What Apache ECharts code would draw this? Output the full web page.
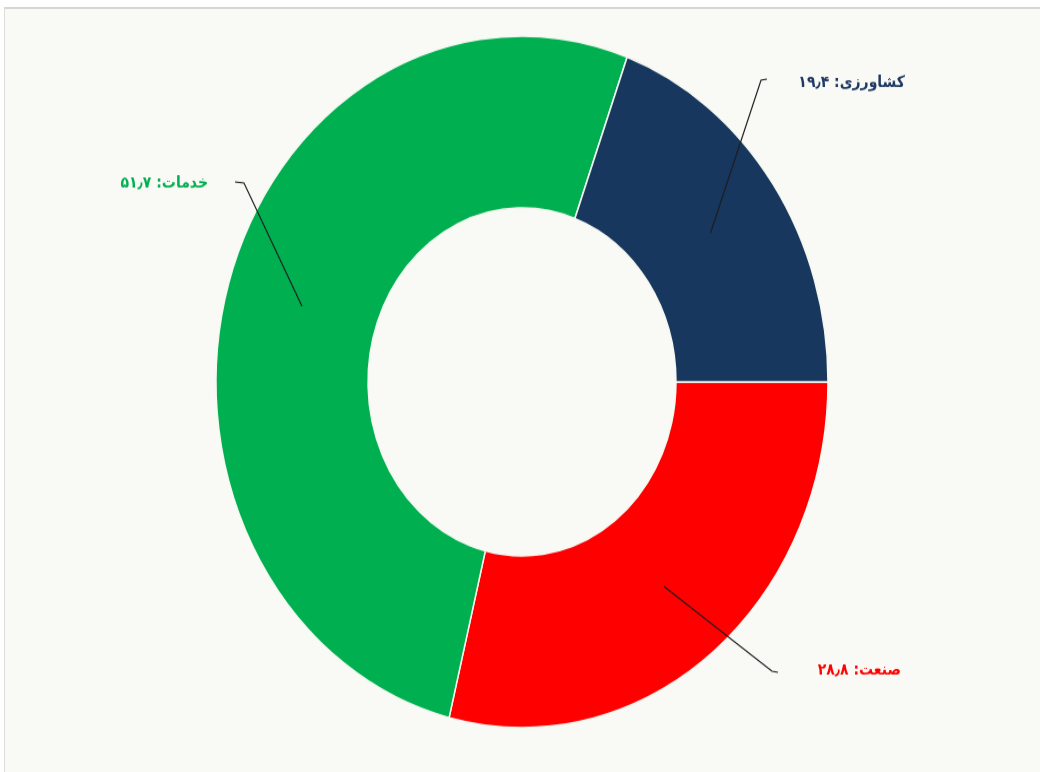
<!DOCTYPE html>
<html>
<head>
<meta charset="utf-8">
<script src="https://cdn.jsdelivr.net/npm/echarts@6/dist/echarts.min.js"></script>
<style>
  html, body { margin: 0; padding: 0; background: #ffffff; width: 1040px; height: 772px; overflow: hidden; }
  #frame { position: absolute; left: 4px; top: 7px; width: 1036px; height: 765px; background: #f9faf5;
           border-top: 2px solid #d6d6d6; border-left: 1px solid #dedede; overflow: hidden; box-sizing: border-box; }
  #chart { position: absolute; left: 0; top: 0; width: 1036px; height: 676px; transform: scaleY(1.13); transform-origin: 0 0; }
</style>
</head>
<body>
<div id="frame"><div id="chart"></div></div>
<script>
// Data
const categories = ['صنعت', 'خدمات', 'کشاورزی'];
const values = [28.8, 51.7, 19.4];

// Styles / layout
const colors = ['#ff0000', '#00b050', '#17375e'];
const labelColors = ['#ff0000', '#00b050', '#1f3864'];
const center = [517, 330];
const radius = [154, 306];
const midR = (radius[0] + radius[1]) / 2;
// label anchor (right edge x, middle y) and label line bend/end points
const labelAnchors = [
  { x: 896, y: 585, bend: [767, 586], end: [773, 587] },
  { x: 203, y: 154, bend: [239, 154], end: [230, 153] },
  { x: 900, y: 65, bend: [756, 63], end: [762, 62] }
];

const faDigits = '۰۱۲۳۴۵۶۷۸۹';
function toFa(n) {
  return String(n).replace('.', '٫').replace(/\d/g, d => faDigits[+d]);
}

const chart = echarts.init(document.getElementById('chart'), null, { renderer: 'canvas' });

chart.setOption({
  backgroundColor: 'transparent',
  animation: false,
  series: [{
    type: 'pie',
    z: 2,
    center: center,
    radius: radius,
    startAngle: 0,
    clockwise: true,
    silent: true,
    itemStyle: { borderColor: '#f4f8f0', borderWidth: 1.5 },
    label: { show: false },
    labelLine: { show: false },
    data: categories.map((c, i) => ({
      name: c,
      value: values[i],
      itemStyle: { color: colors[i] }
    }))
  }, {
    // transparent overlay ring at mid radius that carries labels and leader lines above the slices
    type: 'pie',
    z: 5,
    center: center,
    radius: [midR - 1, midR],
    startAngle: 0,
    clockwise: true,
    silent: true,
    avoidLabelOverlap: false,
    itemStyle: { color: 'rgba(0,0,0,0)', borderWidth: 0 },
    label: {
      show: true,
      position: 'outside',
      fontFamily: 'DejaVu Sans',
      fontWeight: 'bold',
      fontSize: 14,
      formatter: p => p.name + ': ' + toFa(p.value)
    },
    labelLine: { show: true, length: 20, length2: 10, lineStyle: { color: '#1e1e1e', width: 1.2 } },
    labelLayout: function (params) {
      const a = labelAnchors[params.dataIndex];
      const p0 = params.labelLinePoints ? params.labelLinePoints[0] : center;
      return {
        x: a.x,
        y: a.y,
        align: 'right',
        verticalAlign: 'middle',
        labelLinePoints: [p0, a.bend, a.end]
      };
    },
    data: categories.map((c, i) => ({
      name: c,
      value: values[i],
      label: { color: labelColors[i] }
    }))
  }]
});
</script>
</body>
</html>
